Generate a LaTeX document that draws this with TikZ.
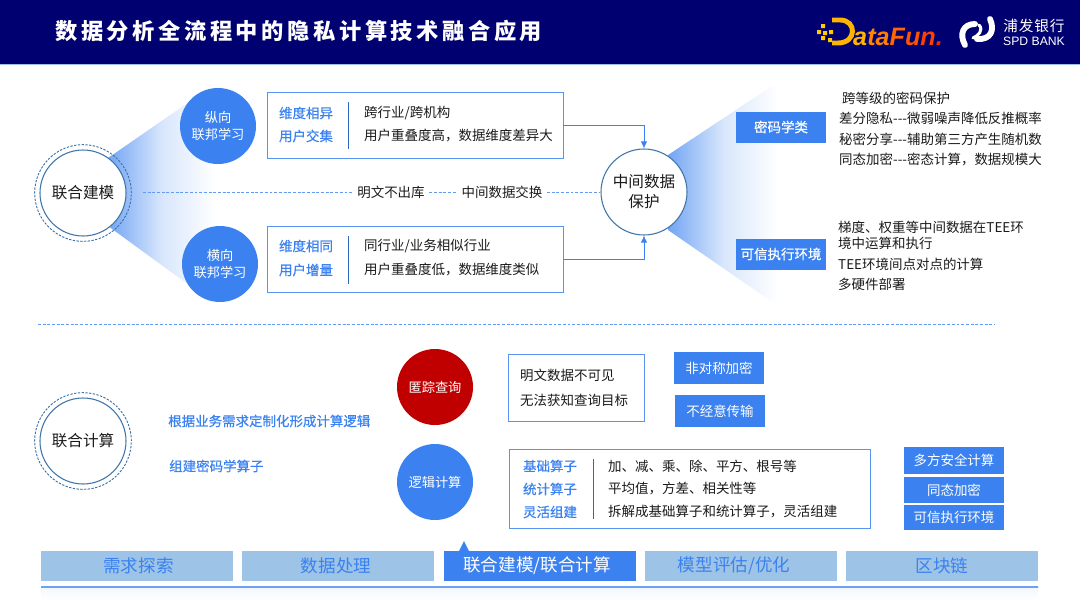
\documentclass[tikz,border=0pt]{standalone}
\usepackage{fontspec}
\usepackage{xcolor}
\usepackage{tikz}
\setmainfont[Ligatures=TeXOff]{Noto Sans CJK SC}
\newfontfamily\titlefont[LetterSpace=16]{Noto Sans CJK SC}
\newfontfamily\bankfont[LetterSpace=6]{Noto Sans CJK SC}
\newfontfamily\headfont[FakeBold=0.6]{Noto Sans CJK SC}
\newfontfamily\logofont{Liberation Sans}
\definecolor{flnavy}{HTML}{000070}
\definecolor{flblue}{HTML}{3B82F0}
\definecolor{flpale}{HTML}{9DC3E6}
\definecolor{flring}{HTML}{3F74A8}
\definecolor{flred}{HTML}{C00000}
\definecolor{flink}{HTML}{1A1A1A}
\definecolor{flsun}{HTML}{FFB400}
\usetikzlibrary{arrows.meta}
\tikzset{
  fltext/.style={anchor=west, inner sep=0pt, text=flink, font=\fontsize{11.5}{13}\selectfont},
  flhead/.style={inner sep=0pt, text=flblue, font=\fontsize{11.5}{13}\selectfont\headfont},
  flframe/.style={draw=flblue!85, fill=white, line width=0.75pt},
  flsep/.style={line width=0.6pt, draw=flblue!80!black},
  flball/.style={circle, fill=flblue, text=white, align=center, inner sep=0pt, minimum size=2.28cm, font=\fontsize{11.3}{15}\selectfont},
  flring/.style={circle, fill=white, draw=flring, line width=0.9pt, text=flink, align=center, inner sep=0pt, minimum size=2.58cm, font=\fontsize{13.3}{17}\selectfont},
  flhalo/.style={circle, draw=flring, line width=0.8pt, dash pattern=on 2pt off 1.2pt, inner sep=0pt, minimum size=2.9cm},
  fltag/.style={fill=flblue, text=white, inner sep=0pt, font=\fontsize{11.5}{13}\selectfont},
  flbar/.style={fill=flpale, text=flblue, inner sep=0pt, minimum width=5.76cm, minimum height=0.9cm, font=\fontsize{15}{17}\selectfont},
  flflow/.style={line width=0.7pt, draw=flblue, -{Latex[length=6pt,width=5.5pt]}},
  fldash/.style={line width=0.7pt, draw=flblue!80, dash pattern=on 2.5pt off 1.5pt},
  flgap/.style={outer sep=4pt},
  flfan/.style={left color=flblue!72, right color=white, middle color=flblue!20, draw=none},
  fllogo/.style={draw=white, line width=5pt, line cap=round},
}
\begin{document}
\begin{tikzpicture}[x=0.03cm,y=-0.03cm]
\useasboundingbox (0,0) rectangle (1080,608);
% title band
\fill[flnavy] (0,0) rectangle (1080,64);
\fill[flpale] (0,64) rectangle (1080,65);
\node[inner sep=0pt, anchor=west, text=white, font=\fontsize{19}{21}\selectfont\titlefont\bfseries] (title) at (55,31) {数据分析全流程中的隐私计算技术融合应用};
% logos
\fill[flsun!70!yellow] (821,24) rectangle (825,28) (817,30) rectangle (821,34) (823,31) rectangle (827,35) (829,30) rectangle (833,34) (821,36) rectangle (825,40) (828,38) rectangle (832,42);
\draw[draw=flsun, line width=4.2pt, line join=round] (832,20) -- (840,20) .. controls (857,20) and (857,43) .. (838,43) -- (832,43);
\node[inner sep=0pt, anchor=base west, font=\fontsize{21.5}{22}\selectfont\logofont\bfseries\itshape] (datafun) at (853,45) {\textcolor{flsun}{a}\textcolor{orange!95!yellow}{t}\textcolor{orange}{a}\textcolor{orange!80!red}{F}\textcolor{orange!65!red}{u}\textcolor{orange!50!red}{n}\textcolor{orange!25!red}{.}};
\draw[fllogo] (965,45) .. controls (959,34) and (963,24) .. (975,24);
\draw[fllogo] (990,19) .. controls (995,30) and (991,40) .. (977,39);
\draw[fllogo, line width=2.6pt] (979,25) .. controls (984,30) and (978,36) .. (973,38);
\node[inner sep=0pt, text=white, font=\fontsize{12.5}{14}\selectfont\bankfont] (bankcn) at (1034,26) {浦发银行};
\node[inner sep=0pt, text=white, font=\fontsize{10.4}{12}\selectfont\logofont] (banken) at (1034,41) {SPD BANK};
% fans
\shade[flfan] (108,158) -- (215,84) -- (215,304) -- (108,226) -- cycle;
\shade[flfan] (668,155) -- (778,82) -- (778,306) -- (668,230) -- cycle;
% upper half
\node[flhalo] (modelhalo) at (83,193) {};
\node[flring] (model) at (83,193) {联合建模};
\node[flball] (vert) at (218,126) {纵向\\联邦学习};
\node[flball] (horiz) at (220,264) {横向\\联邦学习};
\node[flframe, minimum width=8.88cm, minimum height=1.98cm] (vbox) at (415,125) {};
\node[flframe, minimum width=8.88cm, minimum height=1.98cm] (hbox) at (415,259) {};
\coordinate (vsepa) at (348,102);
\coordinate (vsepb) at (348,149);
\coordinate (hsepa) at (348,236);
\coordinate (hsepb) at (348,284);
\draw[flsep] (vsepa) -- (vsepb);
\draw[flsep] (hsepa) -- (hsepb);
\node[flhead] (vheada) at (306,113) {维度相异};
\node[flhead] (vheadb) at (306,136) {用户交集};
\node[flhead] (hheada) at (306,246) {维度相同};
\node[flhead] (hheadb) at (306,270) {用户增量};
\node[fltext] (vtexta) at (364,113) {跨行业/跨机构};
\node[fltext] (vtextb) at (364,136) {用户重叠度高，数据维度差异大};
\node[fltext] (htexta) at (364,246) {同行业/业务相似行业};
\node[fltext] (htextb) at (364,270) {用户重叠度低，数据维度类似};
\node[flring] (guard) at (644,192) {中间数据\\保护};
\draw[flflow] (vbox.east) -| (guard.north);
\draw[flflow] (hbox.east) -| (guard.south);
\node[fltext, flgap, anchor=center] (plain) at (391,192) {明文不出库};
\node[fltext, flgap, anchor=center] (swap) at (502,192) {中间数据交换};
\coordinate (dashstart) at (143,192);
\draw[fldash] (dashstart) -- (plain.west);
\draw[fldash] (plain.east) -- (swap.west);
\draw[fldash] (swap.east) -- (guard.west);
\node[fltag, minimum width=2.7cm, minimum height=0.93cm, font=\fontsize{11.5}{13}\selectfont\headfont] (crypto) at (781,127) {密码学类};
\node[fltag, minimum width=2.7cm, minimum height=0.93cm, font=\fontsize{11.5}{13}\selectfont\headfont] (tee) at (781,254) {可信执行环境};
\node[fltext] (cryptoa) at (842,98) {跨等级的密码保护};
\node[fltext] (cryptob) at (839,118) {差分隐私---微弱噪声降低反推概率};
\node[fltext] (cryptoc) at (839,139) {秘密分享---辅助第三方产生随机数};
\node[fltext] (cryptod) at (839,159) {同态加密---密态计算，数据规模大};
\node[fltext] (teea) at (838,227) {梯度、权重等中间数据在TEE环};
\node[fltext] (teeb) at (838,243) {境中运算和执行};
\node[fltext] (teec) at (838,264) {TEE环境间点对点的计算};
\node[fltext] (teed) at (838,284) {多硬件部署};
% divider
\coordinate (divl) at (38,324);
\coordinate (divr) at (995,324);
\draw[fldash] (divl) -- (divr);
% lower half
\node[flhalo] (comphalo) at (83,441) {};
\node[flring] (comp) at (83,441) {联合计算};
\node[flhead, anchor=west] (needa) at (168,421) {根据业务需求定制化形成计算逻辑};
\node[flhead, anchor=west] (needb) at (169,466) {组建密码学算子};
\node[flball, fill=flred] (query) at (435,387) {匿踪查询};
\node[flball] (logic) at (435,482) {逻辑计算};
\node[flframe, minimum width=4.08cm, minimum height=2.01cm] (qbox) at (576,387.500) {};
\node[fltext] (qtexta) at (520,375) {明文数据不可见};
\node[fltext] (qtextb) at (520,400) {无法获知查询目标};
\node[fltag, minimum width=2.7cm, minimum height=0.96cm] (asym) at (719,368) {非对称加密};
\node[fltag, minimum width=2.7cm, minimum height=0.96cm] (ot) at (720,411) {不经意传输};
\node[flframe, minimum width=10.83cm, minimum height=2.37cm] (lbox) at (689.500,488.500) {};
\coordinate (lsepa) at (593,459);
\coordinate (lsepb) at (593,519);
\draw[flsep] (lsepa) -- (lsepb);
\node[flhead] (lheada) at (550,466) {基础算子};
\node[flhead] (lheadb) at (550,489) {统计算子};
\node[flhead] (lheadc) at (550,512) {灵活组建};
\node[fltext] (ltexta) at (608,466) {加、减、乘、除、平方、根号等};
\node[fltext] (ltextb) at (608,489) {平均值，方差、相关性等};
\node[fltext] (ltextc) at (608,512) {拆解成基础算子和统计算子，灵活组建};
\node[fltag, minimum width=3cm, minimum height=0.81cm] (mpc) at (954,460) {多方安全计算};
\node[fltag, minimum width=3cm, minimum height=0.78cm] (he) at (954,490) {同态加密};
\node[fltag, minimum width=3cm, minimum height=0.75cm] (tec) at (954,517) {可信执行环境};
% stage bar
\node[flbar] (stagea) at (137,566) {\kern2.5pt需求探索};
\node[flbar] (stageb) at (338,566) {\kern-3.4pt数据处理};
\node[flbar, fill=flblue, text=white] (stagec) at (540,566) {\kern-5pt联合建模/联合计算};
\node[flbar] (staged) at (740.500,566) {\kern-11pt模型评估/优化};
\node[flbar] (stagee) at (942,566) {区块链};
\fill[flblue] (459,551) -- (464,541) -- (469,551) -- cycle;
\shade[left color=flblue!75, middle color=flblue!40, right color=flblue!75] (41,586.500) rectangle (1038,588);
\shade[top color=flblue!6, bottom color=white] (41,588) rectangle (1038,600);
\end{tikzpicture}
\end{document}
